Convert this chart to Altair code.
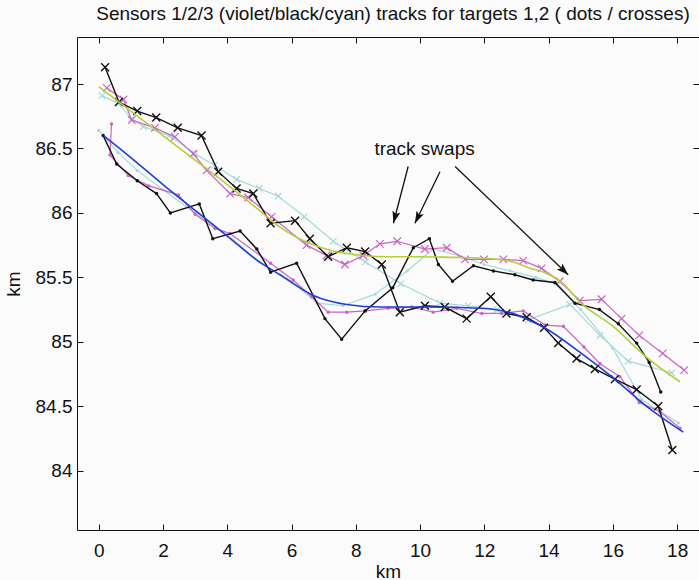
import math
import altair as alt
import pandas as pd

# ---------------- track data (x km, y km) ----------------
# sensor 2 (black), target 1 (crosses)
BLACK_CROSS_X = [0.20, 0.63, 1.20, 1.79, 2.46, 3.20, 3.72, 4.29, 4.81, 5.35, 6.11, 6.57, 7.14,
                 7.72, 8.29, 8.81, 9.37, 10.15, 10.77, 11.45, 12.20, 12.69, 13.32, 13.86, 14.30,
                 14.87, 15.44, 16.06, 16.74, 17.41, 17.85]
BLACK_CROSS_Y = [87.13, 86.86, 86.79, 86.74, 86.66, 86.60, 86.32, 86.19, 86.15, 85.92, 85.94, 85.80, 85.66,
                 85.73, 85.70, 85.60, 85.23, 85.28, 85.27, 85.18, 85.35, 85.22, 85.19, 85.11, 84.99,
                 84.87, 84.79, 84.71, 84.63, 84.50, 84.16]
# sensor 2 (black), target 2 (dots)
BLACK_DOT_X = [0.14, 0.56, 1.20, 1.80, 2.23, 3.13, 3.55, 4.40, 4.92, 5.35, 6.16, 7.04, 7.56,
               8.29, 9.15, 9.79, 10.29, 10.57, 11.01, 11.66, 12.28, 12.95, 13.52, 14.20, 14.82,
               15.58, 16.17, 16.74, 17.13, 17.49]
BLACK_DOT_Y = [86.60, 86.38, 86.25, 86.15, 86.00, 86.07, 85.80, 85.86, 85.72, 85.54, 85.61, 85.18, 85.02,
               85.24, 85.42, 85.73, 85.80, 85.60, 85.47, 85.59, 85.55, 85.52, 85.48, 85.46, 85.30,
               85.25, 85.14, 84.99, 84.84, 84.61]
# sensor 1 (violet), target 1 (crosses)
VIOLET_CROSS_X = [0.25, 0.77, 1.03, 1.75, 2.37, 2.94, 3.36, 4.09, 4.65, 5.38, 6.47, 7.09, 7.66,
                  8.23, 8.75, 9.29, 10.15, 10.83, 11.40, 11.99, 12.59, 13.21, 13.78, 14.35, 14.97,
                  15.65, 16.27, 16.82, 17.55, 18.22]
VIOLET_CROSS_Y = [86.97, 86.88, 86.72, 86.66, 86.59, 86.46, 86.33, 86.15, 86.12, 85.97, 85.75, 85.67, 85.60,
                  85.67, 85.76, 85.78, 85.72, 85.73, 85.64, 85.64, 85.64, 85.63, 85.57, 85.47, 85.32,
                  85.33, 85.18, 85.05, 84.91, 84.78]
# sensor 1 (violet), target 2 (dots)
VIOLET_DOT_X = [0.40, 0.35, 0.92, 1.56, 2.48, 3.00, 3.62, 4.09, 5.35, 6.05, 6.63, 7.14, 7.72,
                8.29, 9.01, 9.74, 10.41, 11.14, 11.92, 12.54, 13.21, 13.89, 14.46, 15.10, 15.60,
                16.22, 16.82, 17.46, 18.09]
VIOLET_DOT_Y = [86.69, 86.45, 86.29, 86.21, 86.14, 85.99, 85.88, 85.84, 85.61, 85.48, 85.35, 85.23, 85.23,
                85.24, 85.26, 85.27, 85.23, 85.26, 85.22, 85.22, 85.24, 85.13, 85.12, 84.96, 84.83,
                84.73, 84.53, 84.46, 84.33]
# sensor 3 (cyan), target 1 (crosses)
CYAN_CROSS_X = [0.10, 0.61, 1.03, 1.39, 2.20, 2.99, 3.60, 4.29, 5.00, 5.59, 6.40, 7.30, 8.30,
                9.40, 10.62, 11.50, 12.40, 13.37, 14.66, 15.60, 16.48, 17.83]
CYAN_CROSS_Y = [86.91, 86.85, 86.73, 86.67, 86.60, 86.46, 86.37, 86.26, 86.19, 86.13, 85.97, 85.78, 85.62,
                85.45, 85.30, 85.28, 85.25, 85.17, 85.29, 85.05, 84.85, 84.76]
# sensor 3 (cyan), target 2 (dots)
CYAN_DOT_X = [0.00, 0.60, 1.20, 2.00, 3.00, 4.00, 5.00, 6.00, 6.80, 7.60, 8.60, 9.60, 10.40,
              11.20, 12.00, 12.80, 13.60, 14.20, 15.00, 16.00, 16.90, 18.04]
CYAN_DOT_Y = [86.64, 86.47, 86.33, 86.18, 86.00, 85.83, 85.62, 85.47, 85.30, 85.28, 85.37, 85.55, 85.72,
              85.67, 85.60, 85.55, 85.50, 85.45, 85.25, 84.95, 84.55, 84.37]
# smoothed estimates for target 1 (yellow-green) and target 2 (blue)
FIT1_X = [0.00, 1.00, 2.00, 3.00, 4.00, 5.00, 5.64, 6.50, 7.20, 8.23, 9.00, 10.00, 11.00,
          11.86, 12.90, 13.37, 13.94, 14.46, 14.97, 16.01, 17.05, 18.09]
FIT1_Y = [86.98, 86.79, 86.60, 86.41, 86.22, 86.02, 85.89, 85.77, 85.71, 85.67, 85.66, 85.66, 85.655,
          85.65, 85.62, 85.575, 85.53, 85.45, 85.31, 85.12, 84.88, 84.69]
FIT2_X = [0.15, 1.00, 2.00, 3.00, 4.00, 5.00, 5.64, 6.68, 7.72, 8.75, 10.31, 11.86, 12.90,
          13.37, 13.94, 14.97, 16.01, 17.05, 18.19]
FIT2_Y = [86.60, 86.43, 86.22, 86.02, 85.82, 85.62, 85.52, 85.36, 85.29, 85.27, 85.27, 85.26, 85.22,
          85.17, 85.10, 84.92, 84.72, 84.50, 84.30]

# annotation: label and three arrows (start -> tip)
NOTE_TEXT = "track swaps"
NOTE_X, NOTE_Y = 10.14, 86.45
ARROW_X0 = [9.63, 10.62, 11.09]
ARROW_Y0 = [86.36, 86.32, 86.36]
ARROW_X1 = [9.17, 9.84, 14.61]
ARROW_Y1 = [85.92, 85.92, 85.52]

X_TICKS = [0, 2, 4, 6, 8, 10, 12, 14, 16, 18]
Y_TICKS = [84, 84.5, 85, 85.5, 86, 86.5, 87]
TITLE = "Sensors 1/2/3 (violet/black/cyan) tracks for targets 1,2 ( dots / crosses)"

# ---------------- styling ----------------
W, H = 622, 493
X_DOMAIN = [-0.675, 18.68]
Y_DOMAIN = [83.54, 87.365]
FONT = "Liberation Sans"
FS = 19
BLACK = "#111111"
VIOLET = "#c965c1"
CYAN = "#a6d9d9"
GREEN = "#b3cf3a"
BLUE = "#1f3fd6"
CROSS = "M-1,-1L1,1M-1,1L1,-1"
HEAD = "M0,0L-0.4,1.2L0,0.95L0.4,1.2Z"

xs = alt.Scale(domain=X_DOMAIN, nice=False, zero=False)
ys = alt.Scale(domain=Y_DOMAIN, nice=False, zero=False)


def table(x, y):
    return pd.DataFrame({"x": x, "y": y, "i": list(range(len(x)))})


def place(chart, xaxis=None, yaxis=None):
    return chart.encode(
        x=alt.X("x:Q", scale=xs, axis=xaxis),
        y=alt.Y("y:Q", scale=ys, axis=yaxis),
        order="i:Q",
    )


def track(x, y, color, marker, msize, width=1.2):
    df = table(x, y)
    line = place(alt.Chart(df).mark_line(color=color, strokeWidth=width))
    if marker == "cross":
        pts = place(alt.Chart(df).mark_point(shape=CROSS, filled=False, stroke=color,
                                             strokeWidth=width, size=msize, opacity=1))
    else:
        pts = place(alt.Chart(df).mark_point(shape="circle", filled=True, fill=color,
                                             size=msize, opacity=1, strokeWidth=0))
    return [line, pts]


layers = []
layers += track(CYAN_DOT_X, CYAN_DOT_Y, CYAN, "dot", 10)
layers += track(CYAN_CROSS_X, CYAN_CROSS_Y, CYAN, "cross", 40)
layers += track(VIOLET_DOT_X, VIOLET_DOT_Y, VIOLET, "dot", 12)
layers += track(VIOLET_CROSS_X, VIOLET_CROSS_Y, VIOLET, "cross", 56)
layers += track(BLACK_DOT_X, BLACK_DOT_Y, BLACK, "dot", 12, 1.4)
layers += track(BLACK_CROSS_X, BLACK_CROSS_Y, BLACK, "cross", 64, 1.4)

fit1 = table(FIT1_X, FIT1_Y)
fit2 = table(FIT2_X, FIT2_Y)
layers.append(place(alt.Chart(fit1).mark_line(color=GREEN, strokeWidth=1.6, interpolate="monotone")))
layers.append(place(alt.Chart(fit2).mark_line(color=BLUE, strokeWidth=1.6, interpolate="monotone")))

# arrows
kx = W / (X_DOMAIN[1] - X_DOMAIN[0])
ky = H / (Y_DOMAIN[1] - Y_DOMAIN[0])
angles = []
for x0, y0, x1, y1 in zip(ARROW_X0, ARROW_Y0, ARROW_X1, ARROW_Y1):
    dx = (x1 - x0) * kx
    dy = -(y1 - y0) * ky
    angles.append((math.degrees(math.atan2(dx, -dy)) + 360) % 360)
arrows = pd.DataFrame({"x": ARROW_X0, "y": ARROW_Y0, "x2": ARROW_X1, "y2": ARROW_Y1, "a": angles})
layers.append(alt.Chart(arrows).mark_rule(color=BLACK, strokeWidth=1.3).encode(
    x=alt.X("x:Q", scale=xs, axis=None), y=alt.Y("y:Q", scale=ys, axis=None),
    x2="x2:Q", y2="y2:Q"))
layers.append(alt.Chart(arrows).mark_point(shape=HEAD, filled=True, fill=BLACK, size=400,
                                           opacity=1, strokeWidth=0).encode(
    x=alt.X("x2:Q", scale=xs, axis=None), y=alt.Y("y2:Q", scale=ys, axis=None),
    angle=alt.Angle("a:Q", scale=None)))
note = pd.DataFrame({"x": [NOTE_X], "y": [NOTE_Y], "t": [NOTE_TEXT]})
layers.append(alt.Chart(note).mark_text(font=FONT, fontSize=FS, color=BLACK, align="center",
                                        baseline="alphabetic").encode(
    x=alt.X("x:Q", scale=xs, axis=None), y=alt.Y("y:Q", scale=ys, axis=None), text="t:N"))

# axis frame: domain lines and inward ticks carried by invisible layers
ghost = alt.Chart(fit1).mark_line(strokeOpacity=0)
common = dict(grid=False, domainColor=BLACK, tickColor=BLACK, labelColor=BLACK,
              labelFont=FONT, labelFontSize=FS, titleFont=FONT, titleFontSize=FS,
              titleFontWeight="normal", titleColor=BLACK)
edge = dict(domain=True, domainWidth=1, ticks=False, labels=False, title=None, grid=False,
            domainColor=BLACK)
inner = dict(domain=False, ticks=True, tickSize=6, tickWidth=1, offset=-6)

layers.append(place(ghost,
                    xaxis=alt.Axis(orient="bottom", **edge),
                    yaxis=alt.Axis(orient="left", **edge)))
layers.append(place(ghost,
                    xaxis=alt.Axis(orient="bottom", values=X_TICKS, labelPadding=11, title="km",
                                   titleY=53, titleBaseline="alphabetic", **inner, **common),
                    yaxis=alt.Axis(orient="left", values=Y_TICKS, format="~g", labelPadding=5,
                                   title="km", titleX=-70, titleBaseline="middle",
                                   **inner, **common)))
layers.append(place(ghost,
                    xaxis=alt.Axis(orient="top", **edge),
                    yaxis=alt.Axis(orient="right", values=Y_TICKS, labels=False, title=None,
                                   **inner, grid=False, tickColor=BLACK)))
layers.append(place(ghost,
                    xaxis=alt.Axis(orient="top", values=X_TICKS, labels=False, title=None,
                                   **inner, grid=False, tickColor=BLACK)))

chart = alt.layer(*layers).resolve_axis(x="independent", y="independent").properties(
    width=W, height=H,
    padding={"left": 77, "top": 37, "right": 0, "bottom": 50},
    autosize=alt.AutoSizeParams(type="none"),
    title=alt.TitleParams(text=TITLE, font=FONT, fontSize=FS, fontWeight="normal",
                          color=BLACK, offset=13, anchor="middle", dx=5),
).configure_view(stroke=None).configure(background="#fbfbfb")

chart.save("out.html", embed_options={"renderer": "svg", "actions": False})
